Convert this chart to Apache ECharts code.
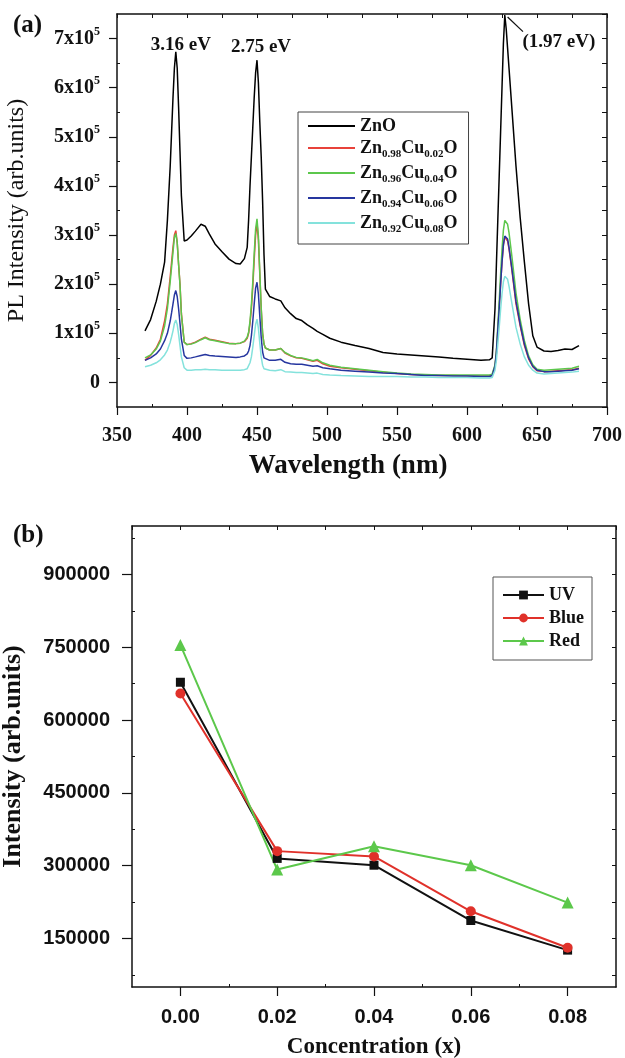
<!DOCTYPE html>
<html>
<head>
<meta charset="utf-8">
<script src="https://cdn.jsdelivr.net/npm/echarts@6/dist/echarts.min.js"></script>
<style>
  html, body { margin: 0; padding: 0; background: #fff; }
  #chart { width: 625px; height: 1058px; }
</style>
</head>
<body>
<div id="chart"></div>
<script>
// ---- (a) PL spectra: wavelength (nm) and intensity (thousands of counts) ----
const wavelengths = [370,374,378,381,384,386,388,389,390,391,392,393,394,395,396,398,400,403,406,410,413,416,420,425,430,435,438,441,443,444,445,446,447,448,449,450,451,452,453,454,455,456,459,463,467,470,474,478,482,486,490,493,497,502,510,520,530,540,550,560,570,580,590,600,610,616,618,620,621,622,623,624,625,626,627,628,629,630,632,635,638,641,644,647,650,655,660,665,670,675,680];

const plZnO = [105,128,165,200,245,330,440,510,580,640,
  673,640,560,470,380,288,290,298,308,322,
  318,302,282,266,251,242,241,252,275,330,
  400,460,520,580,630,656,610,530,460,370,
  260,190,175,170,166,152,140,130,126,117,
  110,104,98,90,82,75,69,61,58,56,
  54,52,49,47,45,46,50,150,240,330,
  420,510,600,690,748,720,680,640,560,440,
  335,245,160,95,72,64,63,65,68,67,
  75];

const plCu02 = [45,55,70,88,125,160,215,245,275,300,
  309,285,240,200,140,82,77,79,82,88,
  92,88,86,83,80,79,80,83,90,100,
  120,150,195,250,300,325,290,220,150,100,
  78,70,66,66,69,60,54,50,49,46,
  43,45,38,33,30,27,24,21,18,16,
  15,14,14,13,13,13,15,33,60,105,
  150,200,245,280,296,298,288,272,230,160,
  115,75,48,32,24,22,23,24,25,26,
  29];

const plCu04 = [50,56,68,84,115,150,205,235,265,295,
  303,285,240,198,138,82,77,78,81,87,
  91,87,85,82,79,79,80,84,92,102,
  125,158,205,262,312,333,298,225,152,100,
  78,70,66,66,69,61,55,51,50,47,
  44,47,40,35,31,28,25,22,19,17,
  16,15,15,15,15,15,17,36,65,115,
  165,220,270,310,330,333,322,305,258,182,
  128,85,54,36,27,25,26,27,28,29,
  33];

const plCu06 = [45,50,58,68,85,100,125,142,160,178,
  187,175,150,120,88,55,49,50,52,55,
  57,55,54,53,52,51,52,54,58,64,
  75,95,125,160,192,204,180,135,92,62,
  50,46,45,45,47,41,38,37,37,35,
  33,34,30,28,25,23,21,19,18,16,
  14,14,13,13,12,12,14,33,60,105,
  150,200,245,280,298,300,292,275,233,165,
  118,78,50,33,25,22,22,23,24,25,
  28];

const plCu08 = [32,35,40,46,56,66,82,93,105,120,
  127,118,98,75,52,30,25,25,26,26,
  27,26,26,25,25,25,25,26,28,32,
  40,52,72,95,118,129,110,80,52,35,
  28,26,25,24,26,22,21,20,20,19,
  18,19,16,15,14,13,12,12,12,11,
  11,10,10,10,9,9,10,25,45,78,
  112,148,180,205,216,218,210,196,162,112,
  78,52,35,25,19,17,18,19,20,21,
  23];

const plNames = ['ZnO', 'Zn0.98Cu0.02O', 'Zn0.96Cu0.04O', 'Zn0.94Cu0.06O', 'Zn0.92Cu0.08O'];
const plColors = ['#000000', '#e8423a', '#5cc74c', '#26369f', '#84e2dc'];
const plSeries = [plZnO, plCu02, plCu04, plCu06, plCu08];

// axis ticks for (a)
const plYTicks = [0, 100, 200, 300, 400, 500, 600, 700];
const plYMinor = [50, 150, 250, 350, 450, 550, 650];
const plXMinor = [375, 425, 475, 525, 575, 625, 675];

// peak annotations: [wavelength, text]
const peakNotes = [[392, '3.16 eV'], [450, '2.75 eV'], [627, '(1.97 eV)']];

// ---- (b) emission intensity vs Cu concentration ----
const concentrations = [0, 0.02, 0.04, 0.06, 0.08];
const uvIntensity   = [678000, 315000, 301000, 187000, 126000];
const blueIntensity = [655000, 330000, 319000, 206000, 131000];
const redIntensity  = [755000, 292000, 340000, 301000, 224000];

const concTicks = [0, 0.02, 0.04, 0.06, 0.08];
const concMinor = [0.01, 0.03, 0.05, 0.07];
const intTicks = [150000, 300000, 450000, 600000, 750000, 900000];
const intMinor = [75000, 225000, 375000, 525000, 675000, 825000, 975000];
const intRight = [75000, 150000, 225000, 300000, 375000, 450000, 525000, 600000, 675000, 750000, 825000, 900000, 975000];

const SERIF = '"Liberation Serif", "Times New Roman", serif';
const SANS = '"Liberation Sans", Arial, sans-serif';
const AX = { lineStyle: { color: '#111', width: 1.5 } };

function pairs(xs, ys) { return xs.map((x, i) => [x, ys[i]]); }

// "Zn0.98Cu0.02O" -> rich text with subscripted stoichiometry
function subName(name) {
  return '{t|' + name.replace(/(\d\.\d+)/g, '}{s|$1}{t|') + '}';
}

const chart = echarts.init(document.getElementById('chart'), null, { renderer: 'canvas' });

const znoPeak = w => plZnO[wavelengths.indexOf(w)];
const noteOffsets = { 392: [5, -7], 450: [4, -13], 627: [54, 27] };

const topSeries = plSeries.map((vals, k) => {
  const s = {
    name: plNames[k],
    type: 'line',
    xAxisIndex: 0,
    yAxisIndex: 0,
    data: pairs(wavelengths, vals),
    symbol: 'none',
    lineStyle: { color: plColors[k], width: 1.5 },
    itemStyle: { color: plColors[k] },
    silent: true,
    animation: false
  };
  if (k === 0) {
    s.markPoint = {
      symbol: 'circle',
      symbolSize: 0,
      silent: true,
      data: peakNotes.map(([w, txt]) => ({
        coord: [w, znoPeak(w)],
        label: {
          show: true, position: 'inside', formatter: txt,
          offset: noteOffsets[w],
          fontFamily: SERIF, fontWeight: 'bold', fontSize: 19, color: '#111'
        }
      }))
    };
    s.markLine = {
      silent: true,
      symbol: ['none', 'arrow'],
      symbolSize: [0, 8],
      lineStyle: { color: '#111', width: 1.2, type: 'solid' },
      label: { show: false },
      data: [[{ coord: [640, 714] }, { coord: [629, 744] }]]
    };
  }
  return s;
});

const bottomSeriesDef = [
  ['UV', uvIntensity, '#111111', 'rect', 9],
  ['Blue', blueIntensity, '#e0312a', 'circle', 10],
  ['Red', redIntensity, '#5cc84b', 'triangle', 12]
];
const bottomSeries = bottomSeriesDef.map(([name, vals, color, sym, size]) => ({
  name,
  type: 'line',
  xAxisIndex: 3,
  yAxisIndex: 3,
  data: pairs(concentrations, vals),
  symbol: sym,
  symbolSize: size,
  lineStyle: { color, width: 2 },
  itemStyle: { color },
  silent: true,
  animation: false
}));

const plTickLabel = v => v === 0 ? '{b|0}' : '{b|' + (v / 100) + 'x10}{sup|5}';

const option = {
  backgroundColor: '#fff',
  animation: false,
  title: [
    { text: '(a)', left: 8, top: 8, textStyle: { fontFamily: SERIF, fontWeight: 'bold', fontSize: 25, color: '#111' } },
    { text: '(b)', left: 8, top: 518, textStyle: { fontFamily: SERIF, fontWeight: 'bold', fontSize: 25, color: '#111' } }
  ],
  grid: [
    { left: 117, top: 14, width: 490, height: 393, outerBoundsMode: 'none', containLabel: false },
    { left: 132, top: 526, width: 484, height: 461, outerBoundsMode: 'none', containLabel: false }
  ],
  legend: [
    {
      data: plNames,
      left: 298, top: 112,
      orient: 'vertical',
      icon: 'rect',
      itemWidth: 47, itemHeight: 2, itemGap: 3,
      padding: [5, 11, 9, 10],
      borderColor: '#444', borderWidth: 1,
      backgroundColor: '#fff',
      selectedMode: false,
      formatter: subName,
      textStyle: {
        color: '#111',
        rich: {
          t: { fontFamily: SERIF, fontWeight: 'bold', fontSize: 18, color: '#111', lineHeight: 20, verticalAlign: 'middle' },
          s: { fontFamily: SERIF, fontWeight: 'bold', fontSize: 11, color: '#111', lineHeight: 11, verticalAlign: 'top', padding: [11, 0, 0, 0] }
        }
      }
    },
    {
      data: ['UV', 'Blue', 'Red'],
      left: 493, top: 577,
      orient: 'vertical',
      itemWidth: 41, itemHeight: 11, itemGap: 5,
      padding: [9, 8, 10, 9],
      borderColor: '#555', borderWidth: 1,
      backgroundColor: '#fff',
      selectedMode: false,
      textStyle: { fontFamily: SERIF, fontWeight: 'bold', fontSize: 18, color: '#111', lineHeight: 18 }
    }
  ],
  xAxis: [
    // (a) bottom: labelled major ticks
    {
      type: 'value', gridIndex: 0, position: 'bottom', min: 350, max: 700, interval: 50,
      axisLine: { show: true, onZero: false, ...AX },
      axisTick: { show: true, inside: false, length: 8, lineStyle: { color: '#111', width: 1.2 } },
      axisLabel: { margin: 19, fontFamily: SERIF, fontWeight: 'bold', fontSize: 20, color: '#111' },
      splitLine: { show: false },
      name: 'Wavelength (nm)', nameLocation: 'middle', nameGap: 46,
      nameTextStyle: { fontFamily: SERIF, fontWeight: 'bold', fontSize: 27, color: '#111', padding: [0, 28, 0, 0] }
    },
    // (a) bottom: minor ticks
    {
      type: 'value', gridIndex: 0, position: 'bottom', min: 350, max: 700,
      axisLine: { show: false, onZero: false },
      axisTick: { show: true, inside: true, length: 3, customValues: plXMinor, lineStyle: { color: '#111', width: 1 } },
      axisLabel: { show: false }, splitLine: { show: false }
    },
    // (a) top frame
    {
      type: 'value', gridIndex: 0, position: 'top', min: 350, max: 700, interval: 25,
      axisLine: { show: true, onZero: false, ...AX },
      axisTick: { show: true, inside: true, length: 4, lineStyle: { color: '#111', width: 1 } },
      axisLabel: { show: false }, splitLine: { show: false }
    },
    // (b) bottom: labelled major ticks
    {
      type: 'value', gridIndex: 1, position: 'bottom', min: -0.01, max: 0.09,
      axisLine: { show: true, onZero: false, ...AX },
      axisTick: { show: true, inside: false, length: 9, customValues: concTicks, lineStyle: { color: '#111', width: 1.2 } },
      axisLabel: { margin: 20, customValues: concTicks, formatter: v => v.toFixed(2), fontFamily: SANS, fontWeight: 'bold', fontSize: 20, color: '#111' },
      splitLine: { show: false },
      name: 'Concentration (x)', nameLocation: 'middle', nameGap: 49,
      nameTextStyle: { fontFamily: SERIF, fontWeight: 'bold', fontSize: 23, color: '#111' }
    },
    // (b) bottom: minor ticks
    {
      type: 'value', gridIndex: 1, position: 'bottom', min: -0.01, max: 0.09,
      axisLine: { show: false, onZero: false },
      axisTick: { show: true, inside: true, length: 3, customValues: concMinor, lineStyle: { color: '#111', width: 1 } },
      axisLabel: { show: false }, splitLine: { show: false }
    },
    // (b) top frame
    {
      type: 'value', gridIndex: 1, position: 'top', min: -0.01, max: 0.09, interval: 0.01,
      axisLine: { show: true, onZero: false, ...AX },
      axisTick: { show: true, inside: true, length: 4, lineStyle: { color: '#111', width: 1 } },
      axisLabel: { show: false }, splitLine: { show: false }
    }
  ],
  yAxis: [
    // (a) left: labelled major ticks
    {
      type: 'value', gridIndex: 0, position: 'left', min: -50, max: 750,
      axisLine: { show: true, onZero: false, ...AX },
      axisTick: { show: true, inside: false, length: 8, customValues: plYTicks, lineStyle: { color: '#111', width: 1.2 } },
      axisLabel: {
        margin: 17, customValues: plYTicks, formatter: plTickLabel,
        rich: {
          b: { fontFamily: SERIF, fontWeight: 'bold', fontSize: 20, color: '#111', lineHeight: 26 },
          sup: { fontFamily: SERIF, fontWeight: 'bold', fontSize: 12, color: '#111', lineHeight: 12, verticalAlign: 'top' }
        }
      },
      splitLine: { show: false },
      name: 'PL Intensity (arb.units)', nameLocation: 'middle', nameGap: 88, nameRotate: 90,
      nameTextStyle: { fontFamily: SERIF, fontWeight: 'normal', fontSize: 24, color: '#111' }
    },
    // (a) left: minor ticks
    {
      type: 'value', gridIndex: 0, position: 'left', min: -50, max: 750,
      axisLine: { show: false, onZero: false },
      axisTick: { show: true, inside: true, length: 3, customValues: plYMinor, lineStyle: { color: '#111', width: 1 } },
      axisLabel: { show: false }, splitLine: { show: false }
    },
    // (a) right frame
    {
      type: 'value', gridIndex: 0, position: 'right', min: -50, max: 750, interval: 50,
      axisLine: { show: true, onZero: false, ...AX },
      axisTick: { show: true, inside: true, length: 5, lineStyle: { color: '#111', width: 1 } },
      axisLabel: { show: false }, splitLine: { show: false }
    },
    // (b) left: labelled major ticks
    {
      type: 'value', gridIndex: 1, position: 'left', min: 50000, max: 1000000,
      axisLine: { show: true, onZero: false, ...AX },
      axisTick: { show: true, inside: false, length: 10, customValues: intTicks, lineStyle: { color: '#111', width: 1.2 } },
      axisLabel: { margin: 22, customValues: intTicks, formatter: v => String(v), fontFamily: SANS, fontWeight: 'bold', fontSize: 20, color: '#111' },
      splitLine: { show: false },
      name: 'Intensity (arb.units)', nameLocation: 'middle', nameGap: 106, nameRotate: 90,
      nameTextStyle: { fontFamily: SERIF, fontWeight: 'bold', fontSize: 26, color: '#111' }
    },
    // (b) left: minor ticks
    {
      type: 'value', gridIndex: 1, position: 'left', min: 50000, max: 1000000,
      axisLine: { show: false, onZero: false },
      axisTick: { show: true, inside: true, length: 3, customValues: intMinor, lineStyle: { color: '#111', width: 1 } },
      axisLabel: { show: false }, splitLine: { show: false }
    },
    // (b) right frame
    {
      type: 'value', gridIndex: 1, position: 'right', min: 50000, max: 1000000,
      axisLine: { show: true, onZero: false, ...AX },
      axisTick: { show: true, inside: true, length: 4, customValues: intRight, lineStyle: { color: '#111', width: 1 } },
      axisLabel: { show: false }, splitLine: { show: false }
    }
  ],
  series: topSeries.concat(bottomSeries)
};

chart.setOption(option);
</script>
</body>
</html>
